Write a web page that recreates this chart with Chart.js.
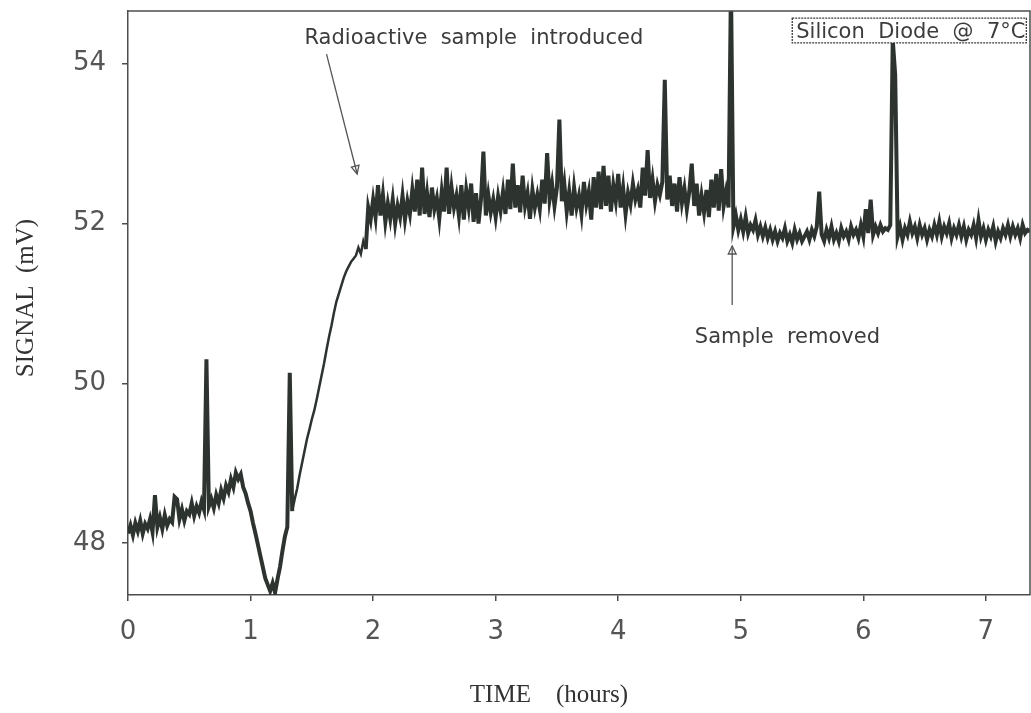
<!DOCTYPE html>
<html>
<head>
<meta charset="utf-8">
<script src="https://cdn.jsdelivr.net/npm/chart.js@4"></script>
<style>
    body { margin: 0; background: #ffffff; }
    canvas { display: block; }
</style>
</head>
<body>
<canvas id="grafico" width="1031" height="713"></canvas>
<script>

// readings every 0.02 h, one row = 0.2 h
const passo = 0.02;

const inicioAntes = 0.0;
const sinalAntes = [
    48.12, 48.22, 48.10, 48.25, 48.15, 48.28, 48.12, 48.24, 48.18, 48.30,   // 0.0
    48.14, 48.60, 48.20, 48.32, 48.18, 48.35, 48.22, 48.30, 48.26, 48.58,   // 0.2
    48.55, 48.30, 48.42, 48.28, 48.40, 48.36, 48.50, 48.34, 48.46, 48.38,   // 0.4
    48.52, 48.42, 50.30, 48.46, 48.55, 48.44, 48.60, 48.50, 48.66, 48.56,   // 0.6
    48.72, 48.64, 48.80, 48.70, 48.88, 48.80, 48.86, 48.70, 48.62, 48.50,   // 0.8
    48.40, 48.25, 48.12, 47.98, 47.84, 47.70, 47.56, 47.48, 47.40, 47.50,   // 1.0
    47.38, 47.55, 47.70, 47.90, 48.08, 48.20, 50.13, 48.40, 48.55, 48.68,   // 1.2
    48.85, 49.00, 49.15, 49.30, 49.42, 49.55, 49.66, 49.80, 49.95, 50.10,   // 1.4
    50.25, 50.42, 50.58, 50.72, 50.88, 51.02, 51.12, 51.22, 51.32, 51.40,   // 1.6
    51.46, 51.52, 51.56, 51.60, 51.70, 51.62, 51.78, 51.68, 52.20, 52.05    // 1.8
];

const inicioAmostra = 2.0;
const sinalAmostra = [
    52.30, 52.08, 52.48, 52.10, 52.36, 52.02, 52.25, 52.06, 52.30, 52.00,   // 2.0
    52.22, 52.08, 52.35, 52.05, 52.28, 52.12, 52.42, 52.15, 52.55, 52.10,   // 2.2
    52.70, 52.12, 52.38, 52.08, 52.45, 52.18, 52.32, 52.06, 52.40, 52.15,   // 2.4
    52.70, 52.12, 52.45, 52.20, 52.35, 52.10, 52.48, 52.05, 52.42, 52.20,   // 2.6
    52.50, 52.02, 52.38, 52.00, 52.30, 52.90, 52.10, 52.36, 52.14, 52.30,   // 2.8
    52.08, 52.34, 52.16, 52.40, 52.12, 52.55, 52.18, 52.75, 52.20, 52.48,   // 3.0
    52.14, 52.60, 52.22, 52.38, 52.06, 52.42, 52.20, 52.36, 52.18, 52.55,   // 3.2
    52.25, 52.88, 52.30, 52.50, 52.22, 52.45, 53.30, 52.28, 52.50, 52.15,   // 3.4
    52.40, 52.10, 52.45, 52.20, 52.35, 52.12, 52.52, 52.24, 52.40, 52.05,   // 3.6
    52.58, 52.20, 52.65, 52.18, 52.72, 52.22, 52.60, 52.15, 52.48, 52.28,   // 3.8
    52.62, 52.20, 52.45, 52.12, 52.38, 52.24, 52.50, 52.30, 52.42, 52.20,   // 4.0
    52.70, 52.35, 52.92, 52.32, 52.55, 52.28, 52.48, 52.36, 52.52, 53.80,   // 4.2
    52.30, 52.60, 52.22, 52.50, 52.15, 52.58, 52.26, 52.44, 52.18, 52.40,   // 4.4
    52.75, 52.22, 52.50, 52.10, 52.35, 52.14, 52.42, 52.08, 52.55, 52.20,   // 4.6
    52.62, 52.16, 52.68, 52.22, 52.40, 52.20, 55.00, 51.96, 52.10, 51.92    // 4.8
];

const inicioDepois = 5.0;
const sinalDepois = [
    52.05, 51.90, 52.08, 51.88, 51.98, 51.92, 52.04, 51.86, 51.96, 51.84,   // 5.0
    51.95, 51.82, 51.92, 51.80, 51.90, 51.78, 51.88, 51.82, 51.94, 51.78,   // 5.2
    51.86, 51.76, 51.92, 51.80, 51.88, 51.78, 51.84, 51.90, 51.80, 51.92,   // 5.4
    51.84, 51.96, 52.40, 51.86, 51.78, 51.92, 51.82, 51.96, 51.80, 51.88,   // 5.6
    51.78, 51.94, 51.84, 51.90, 51.80, 51.96, 51.86, 51.92, 51.82, 51.98,   // 5.8
    51.84, 52.18, 51.88, 52.30, 51.86, 51.96, 51.88, 51.98, 51.90, 51.94,   // 6.0
    51.92, 51.98, 54.30, 53.86, 51.84, 51.96, 51.80, 51.94, 51.86, 52.02,   // 6.2
    51.88, 51.96, 51.82, 51.98, 51.86, 51.94, 51.80, 51.92, 51.84, 51.98,   // 6.4
    51.86, 52.02, 51.84, 51.96, 51.88, 52.00, 51.82, 51.94, 51.86, 51.98,   // 6.6
    51.84, 51.96, 51.80, 51.92, 51.86, 51.98, 51.82, 52.04, 51.84, 51.94,   // 6.8
    51.80, 51.92, 51.84, 51.96, 51.78, 51.90, 51.82, 51.94, 51.86, 51.98,   // 7.0
    51.84, 51.96, 51.86, 51.94, 51.82, 51.98, 51.88, 51.92, 51.90           // 7.2
];

const ticksTempo = [0, 1, 2, 3, 4, 5, 6, 7];
const ticksSinal = [48, 50, 52, 54];

const limitesTempo = [0, 7.36];
const limitesSinal = [47.35, 54.66];

// the fast ramp was traced with a thinner pen
const trechoFino = [1.34, 1.94];

const corTraco = '#2d332e';
const corEixo = '#4d4d4d';


function montarPontos(inicio, valores) {
    var pontos = [];
    for (var i = 0; i < valores.length; i++) {
        pontos.push({ x: Number((inicio + i * passo).toFixed(2)), y: valores[i] });
    }
    return pontos;
}

// arrow in data coordinates
function seta(ctx, x, y, t0, v0, t1, v1) {
    var x0 = x.getPixelForValue(t0), y0 = y.getPixelForValue(v0);
    var x1 = x.getPixelForValue(t1), y1 = y.getPixelForValue(v1);
    var ang = Math.atan2(y1 - y0, x1 - x0);
    ctx.beginPath();
    ctx.moveTo(x0, y0);
    ctx.lineTo(x1, y1);
    ctx.stroke();
    ctx.beginPath();
    ctx.moveTo(x1 - 9 * Math.cos(ang - 0.45), y1 - 9 * Math.sin(ang - 0.45));
    ctx.lineTo(x1, y1);
    ctx.lineTo(x1 - 9 * Math.cos(ang + 0.45), y1 - 9 * Math.sin(ang + 0.45));
    ctx.closePath();
    ctx.stroke();
}

const decoracao = {
    id: 'decoracao',
    afterDraw(chart) {
        var ctx = chart.ctx;
        var a = chart.chartArea;
        var x = chart.scales.x, y = chart.scales.y;
        ctx.save();

        // top and right frame
        ctx.strokeStyle = corEixo;
        ctx.lineWidth = 1.5;
        ctx.beginPath();
        ctx.moveTo(a.left, a.top);
        ctx.lineTo(a.right, a.top);
        ctx.lineTo(a.right, a.bottom);
        ctx.stroke();

        // axis titles
        ctx.fillStyle = '#333333';
        ctx.font = '25px "Liberation Serif"';
        ctx.textAlign = 'center';
        ctx.textBaseline = 'alphabetic';
        ctx.fillText('TIME    (hours)', 549, 702);
        ctx.save();
        ctx.translate(33, 298);
        ctx.rotate(-Math.PI / 2);
        ctx.fillText('SIGNAL  (mV)', 0, 0);
        ctx.restore();

        // notes
        ctx.fillStyle = '#3c3c3c';
        ctx.font = '21px "DejaVu Sans"';
        ctx.textAlign = 'left';
        ctx.fillText('Radioactive  sample  introduced', x.getPixelForValue(1.44), y.getPixelForValue(54.25));
        ctx.fillText('Sample  removed', x.getPixelForValue(4.625), y.getPixelForValue(50.5));

        ctx.strokeStyle = '#555555';
        ctx.lineWidth = 1.3;
        seta(ctx, x, y, 1.62, 54.12, 1.87, 52.62);
        seta(ctx, x, y, 4.93, 50.98, 4.93, 51.72);

        // label box
        var bx0 = x.getPixelForValue(5.42), bx1 = x.getPixelForValue(7.33);
        var by0 = y.getPixelForValue(54.57), by1 = y.getPixelForValue(54.26);
        ctx.fillStyle = '#ffffff';
        ctx.fillRect(bx0, by0, bx1 - bx0, by1 - by0);
        ctx.setLineDash([2, 1]);
        ctx.strokeStyle = '#3c3c3c';
        ctx.strokeRect(bx0, by0, bx1 - bx0, by1 - by0);
        ctx.setLineDash([]);
        ctx.fillStyle = '#3c3c3c';
        ctx.fillText('Silicon  Diode  @  7°C', bx0 + 4, by1 - 5);

        ctx.restore();
    }
};


function plotarGrafico() {

    var pontos = montarPontos(inicioAntes, sinalAntes)
        .concat(montarPontos(inicioAmostra, sinalAmostra))
        .concat(montarPontos(inicioDepois, sinalDepois));

    let Grafico = new Chart(
        document.getElementById(`grafico`), {
        type: 'line',
        data: {
            datasets: [{
                label: 'SIGNAL',
                data: pontos,
                borderColor: corTraco,
                borderWidth: 4,
                pointRadius: 0,
                tension: 0,
                fill: false,
                segment: {
                    borderWidth: function (c) {
                        var t = c.p0.parsed.x;
                        return (t >= trechoFino[0] && t < trechoFino[1]) ? 2.5 : 4;
                    }
                }
            }]
        },
        options: {
            responsive: false,
            animation: false,
            layout: {
                padding: { top: 11, right: 1, left: 0, bottom: 0 }
            },
            scales: {
                x: {
                    type: 'linear',
                    min: limitesTempo[0],
                    max: limitesTempo[1],
                    afterFit: function (scale) {
                        scale.height = 118;
                        scale.paddingLeft = 0;
                        scale.paddingRight = 0;
                    },
                    afterBuildTicks: function (scale) {
                        scale.ticks = ticksTempo.map(function (v) { return { value: v }; });
                    },
                    ticks: {
                        color: '#555555',
                        font: { family: 'DejaVu Sans', size: 26 },
                        padding: 16,
                        maxRotation: 0,
                        autoSkip: false
                    },
                    grid: { drawOnChartArea: false, drawTicks: true, tickLength: 6, color: corEixo, lineWidth: 1.5 },
                    border: { color: corEixo, width: 1.5 }
                },
                y: {
                    min: limitesSinal[0],
                    max: limitesSinal[1],
                    afterFit: function (scale) {
                        scale.width = 128;
                        scale.paddingTop = 0;
                        scale.paddingBottom = 0;
                    },
                    afterBuildTicks: function (scale) {
                        scale.ticks = ticksSinal.map(function (v) { return { value: v }; });
                    },
                    ticks: {
                        color: '#555555',
                        font: { family: 'DejaVu Sans', size: 26 },
                        padding: 16
                    },
                    grid: { drawOnChartArea: false, drawTicks: true, tickLength: 6, color: corEixo, lineWidth: 1.5 },
                    border: { color: corEixo, width: 1.5 }
                }
            },
            plugins: {
                legend: { display: false },
                tooltip: { enabled: false }
            }
        },
        plugins: [decoracao]
    });
}

window.onload = () => {
    plotarGrafico();
}
</script>
</body>
</html>
